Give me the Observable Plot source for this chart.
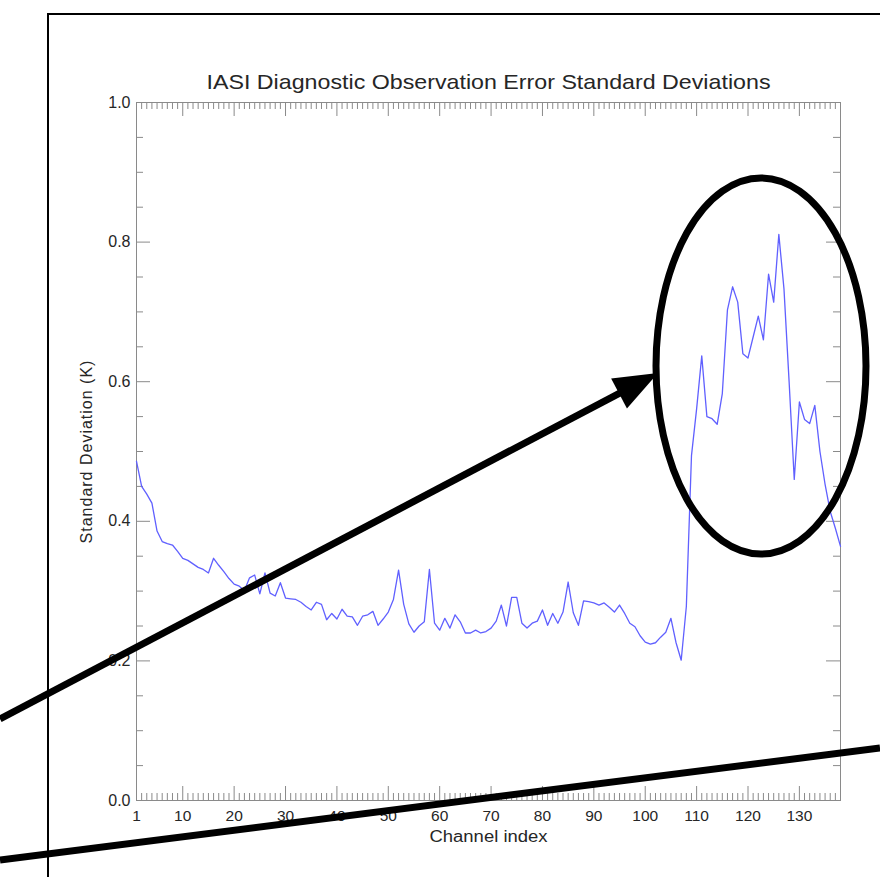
<!DOCTYPE html>
<html><head><meta charset="utf-8">
<script src="https://cdn.jsdelivr.net/npm/d3@7"></script>
<script src="https://cdn.jsdelivr.net/npm/@observablehq/plot@0.6"></script>
<style>
body{margin:0;background:#fff}
#chart{position:relative;width:880px;height:877px;overflow:hidden}
</style>
</head><body><div id="chart"></div>
<script>
// ---- data ----
const channels = d3.range(1, 139);
const stddev = [
0.486,0.450,0.439,0.426,0.386,0.371,0.368,0.366,0.357,0.347,
0.344,0.339,0.334,0.331,0.326,0.347,0.337,0.328,0.318,0.310,
0.307,0.301,0.319,0.323,0.296,0.326,0.297,0.293,0.312,0.290,
0.289,0.288,0.284,0.278,0.273,0.284,0.281,0.259,0.268,0.260,
0.274,0.264,0.263,0.251,0.264,0.266,0.271,0.251,0.260,0.270,
0.288,0.330,0.281,0.253,0.241,0.250,0.256,0.331,0.254,0.244,
0.261,0.247,0.266,0.256,0.240,0.240,0.244,0.240,0.242,0.247,
0.257,0.280,0.250,0.291,0.291,0.254,0.247,0.254,0.257,0.273,
0.251,0.268,0.254,0.270,0.313,0.269,0.251,0.286,0.285,0.283,
0.280,0.283,0.277,0.270,0.280,0.268,0.254,0.249,0.236,0.227,
0.224,0.226,0.234,0.241,0.261,0.226,0.201,0.278,0.494,0.561,
0.637,0.550,0.547,0.539,0.583,0.703,0.736,0.714,0.640,0.634,
0.664,0.694,0.660,0.754,0.714,0.811,0.733,0.600,0.460,0.571,
0.546,0.540,0.566,0.500,0.453,0.414,0.390,0.364
];
const xTickLabels = [1,10,20,30,40,50,60,70,80,90,100,110,120,130];
const xMajorTicks = [10,20,30,40,50,60,70,80,90,100,110,120,130];
const yTickLabels = [0,0.2,0.4,0.6,0.8,1.0];
const yMinorTicks = [0.05,0.1,0.15,0.25,0.3,0.35,0.45,0.5,0.55,0.65,0.7,0.75,0.85,0.9,0.95];
const titleText = "IASI Diagnostic Observation Error Standard Deviations";
const xTitle = "Channel index";
const yTitle = "Standard Deviation (K)";

// ---- layout ----
const W = 880, H = 877, mL = 136, mR = 40, mT = 102, mB = 77;
const xDomain = [1, 138], yDomain = [0, 1];
const pxX = (W - mL - mR) / (xDomain[1] - xDomain[0]);
const pxY = (H - mT - mB) / (yDomain[1] - yDomain[0]);
const majorLen = 14, minorLen = 7;
const gray = "#8a8a8a";
const ink = "#262626";
const font = "'Liberation Sans', Arial, Helvetica, sans-serif";

const rows = channels.map((c, i) => ({channel: c, sd: stddev[i]}));
const xMinor = channels.filter(c => !xMajorTicks.includes(c));

const plot = Plot.plot({
  width: W, height: H,
  marginLeft: mL, marginRight: mR, marginTop: mT, marginBottom: mB,
  style: {fontFamily: font, background: "white", color: ink},
  x: {domain: xDomain, axis: null},
  y: {domain: yDomain, axis: null},
  marks: [
    Plot.frame({stroke: gray, strokeWidth: 1}),
    // bottom/top ticks (inward)
    Plot.ruleX(xMajorTicks, {x: d => d, y1: 0, y2: majorLen / pxY, stroke: gray}),
    Plot.ruleX(xMajorTicks, {x: d => d, y1: 1, y2: 1 - majorLen / pxY, stroke: gray}),
    Plot.ruleX(xMinor, {x: d => d, y1: 0, y2: minorLen / pxY, stroke: gray}),
    Plot.ruleX(xMinor, {x: d => d, y1: 1, y2: 1 - minorLen / pxY, stroke: gray}),
    // left/right ticks (inward)
    Plot.ruleY(yTickLabels, {y: d => d, x1: xDomain[0], x2: xDomain[0] + majorLen / pxX, stroke: gray}),
    Plot.ruleY(yTickLabels, {y: d => d, x1: xDomain[1], x2: xDomain[1] - majorLen / pxX, stroke: gray}),
    Plot.ruleY(yMinorTicks, {y: d => d, x1: xDomain[0], x2: xDomain[0] + minorLen / pxX, stroke: gray}),
    Plot.ruleY(yMinorTicks, {y: d => d, x1: xDomain[1], x2: xDomain[1] - minorLen / pxX, stroke: gray}),
    // tick labels
    Plot.text(xTickLabels, {x: d => d, y: 0, dy: 16, lineAnchor: "middle", text: d => String(d), fontSize: 15.5, fill: ink}),
    Plot.text(yTickLabels, {x: xDomain[0], y: d => d, dx: -6, lineAnchor: "middle", text: d => d3.format(".1f")(d), textAnchor: "end", fontSize: 16, fill: ink}),
    // data line
    Plot.line(rows, {x: "channel", y: "sd", stroke: "#6060ff", strokeWidth: 1.3}),
    // titles
    Plot.text([titleText], {frameAnchor: "top", lineAnchor: "middle", dy: -20, fontSize: 21, fill: ink}),
    Plot.text([xTitle], {frameAnchor: "bottom", lineAnchor: "middle", dy: 36, fontSize: 16, fill: ink}),
    Plot.text([yTitle], {frameAnchor: "left", textAnchor: "middle", lineAnchor: "middle", dx: -50, rotate: -90, fontSize: 16, fill: ink})
  ]
});

document.getElementById("chart").appendChild(plot);

// match reference text widths
const stretch = {[titleText]: 564, [xTitle]: 118};
plot.querySelectorAll("text").forEach(t => {
  const w = stretch[t.textContent];
  if (w) { t.setAttribute("textLength", w); t.setAttribute("lengthAdjust", "spacingAndGlyphs"); }
  if (t.textContent === yTitle) t.style.letterSpacing = "1px";
});

// ---- slide annotations (overlay, pixel space) ----
const svg = d3.select(plot);
const ann = svg.append("g").attr("fill", "none").attr("stroke", "black");
ann.append("rect").attr("x", 48).attr("y", 14).attr("width", 900).attr("height", 900).attr("stroke-width", 2);
ann.append("ellipse").attr("cx", 761).attr("cy", 366).attr("rx", 105).attr("ry", 188).attr("stroke-width", 7);
const tip = [658, 373], start = [0, 719];
const dx = tip[0] - start[0], dy = tip[1] - start[1], L = Math.hypot(dx, dy);
const ux = dx / L, uy = dy / L, px = -uy, py = ux;
const hl = 44, hw = 17;
const bx = tip[0] - hl * ux, by = tip[1] - hl * uy;
ann.append("line").attr("x1", start[0]).attr("y1", start[1]).attr("x2", bx + 4 * ux).attr("y2", by + 4 * uy).attr("stroke-width", 7);
ann.append("path").attr("d", `M${tip[0]},${tip[1]}L${bx + hw * px},${by + hw * py}L${bx - hw * px},${by - hw * py}Z`).attr("fill", "black").attr("stroke", "none");
ann.append("line").attr("x1", 0).attr("y1", 860).attr("x2", 880).attr("y2", 748).attr("stroke-width", 7);
</script>
</body></html>
